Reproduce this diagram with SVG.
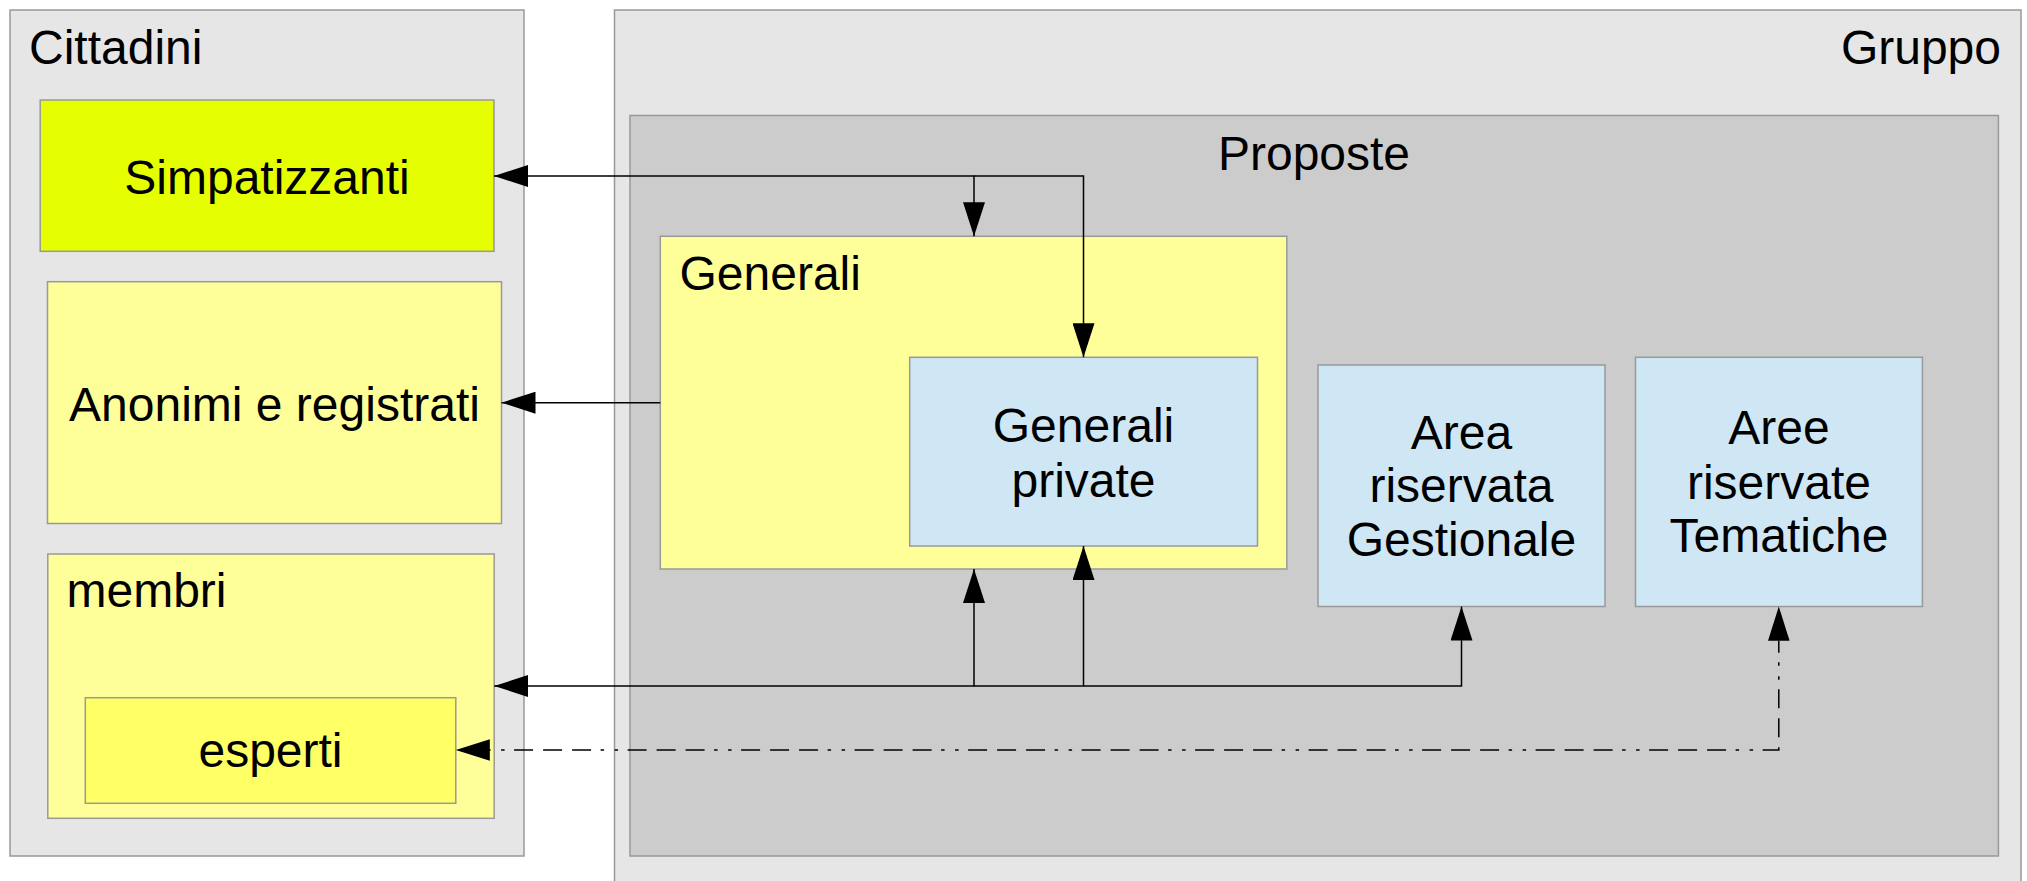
<svg xmlns="http://www.w3.org/2000/svg" width="2027" height="881" viewBox="0 0 2027 881">
<style>
.box{stroke:#999999;stroke-width:1.5}
.grey{fill:#e6e6e6}
.dgrey{fill:#cccccc}
.yel{fill:#ffff99}
.lime{fill:#e6ff00}
.yel2{fill:#ffff66}
.blue{fill:#cfe7f5}
text{font-family:"Liberation Sans",Arial,sans-serif;font-size:48px;fill:#000}
.mid{text-anchor:middle}
.end{text-anchor:end}
.con{fill:none;stroke:#000;stroke-width:1.5}
.dash{stroke-dasharray:19 10 19 10 19 9.5 3.5 10.5 3.5 9.5}
</style>
<defs>
<marker id="arr" viewBox="0 0 34 22" refX="34" refY="11" markerWidth="34" markerHeight="22" markerUnits="userSpaceOnUse" orient="auto-start-reverse">
<path d="M0,0 L34,11 L0,22 z" fill="#000"/>
</marker>
</defs>
<rect width="2027" height="881" fill="#ffffff"/>
<g id="cittadini">
<rect class="box grey" x="10" y="10" width="514" height="846"/>
<text x="29" y="63.5">Cittadini</text>
</g>
<g id="gruppo">
<rect class="box grey" x="614.5" y="10" width="1406.5" height="890"/>
<text class="end" x="2001" y="63.5">Gruppo</text>
</g>
<g id="proposte">
<rect class="box dgrey" x="630" y="115.5" width="1368.4" height="740.5"/>
<text class="mid" x="1314" y="169.5">Proposte</text>
</g>
<g id="simpatizzanti">
<rect class="box lime" x="40.2" y="100" width="453.8" height="151.3"/>
<text class="mid" x="267" y="193.5">Simpatizzanti</text>
</g>
<g id="anonimi">
<rect class="box yel" x="47.5" y="281.7" width="454" height="241.8"/>
<text class="mid" x="274.5" y="420.5">Anonimi e registrati</text>
</g>
<g id="membri">
<rect class="box yel" x="47.8" y="554" width="446.4" height="264.3"/>
<text x="66.5" y="607">membri</text>
</g>
<g id="esperti">
<rect class="box yel2" x="85.3" y="697.7" width="370.5" height="105.6"/>
<text class="mid" x="270.5" y="767">esperti</text>
</g>
<g id="generali">
<rect class="box yel" x="660.3" y="236.3" width="626.5" height="332.7"/>
<text x="679.5" y="289.5">Generali</text>
</g>
<g id="generali-private">
<rect class="box blue" x="909.7" y="357.3" width="347.8" height="188.7"/>
<text class="mid" x="1083.5" y="442">Generali</text>
<text class="mid" x="1083.5" y="497">private</text>
</g>
<g id="area-gestionale">
<rect class="box blue" x="1318" y="365" width="287" height="241.5"/>
<text class="mid" x="1461.5" y="448.5">Area</text>
<text class="mid" x="1461.5" y="502">riservata</text>
<text class="mid" x="1461.5" y="556">Gestionale</text>
</g>
<g id="aree-tematiche">
<rect class="box blue" x="1635.5" y="357.3" width="286.9" height="249.2"/>
<text class="mid" x="1779" y="444">Aree</text>
<text class="mid" x="1779" y="498.5">riservate</text>
<text class="mid" x="1779" y="552">Tematiche</text>
</g>
<g id="connectors">
<path class="con" d="M494,176 H974 V236.3" marker-start="url(#arr)" marker-end="url(#arr)"/>
<path class="con" d="M974,176 H1083.5 V357.3" marker-end="url(#arr)"/>
<path class="con" d="M660.3,402.7 H501.5" marker-end="url(#arr)"/>
<path class="con" d="M494.2,686 H974 V569" marker-start="url(#arr)" marker-end="url(#arr)"/>
<path class="con" d="M974,686 H1083.5 V546" marker-end="url(#arr)"/>
<path class="con" d="M1083.5,686 H1461.5 V606.5" marker-end="url(#arr)"/>
<path class="con dash" d="M455.8,750 H1778.8 V640.7" style="stroke-dashoffset:55.2"/>
<path d="M455.8,750 L489.8,739.2 L489.8,760.8 z" fill="#000"/>
<path d="M1778.8,606.5 L1768,640.7 L1789.6,640.7 z" fill="#000"/>
</g>
</svg>
